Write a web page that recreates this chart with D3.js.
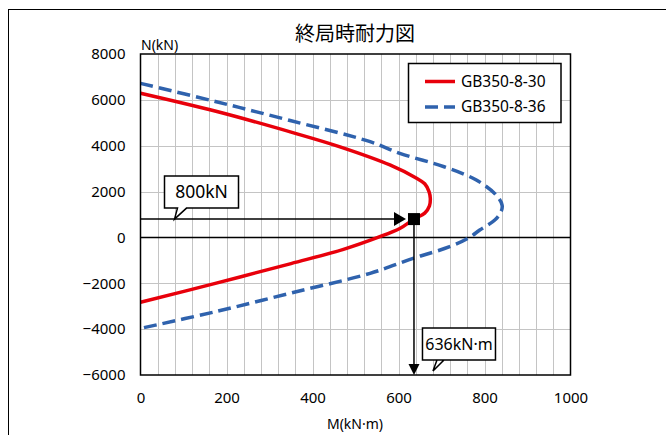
<!DOCTYPE html>
<html><head><meta charset="utf-8">
<script src="https://cdn.jsdelivr.net/npm/d3@7"></script>
<style>body{margin:0;background:#fff} text{font-family:"Noto Sans","Noto Sans CJK JP",sans-serif;fill:#000}</style>
</head><body><svg id="c" width="666" height="435"></svg>
<script>
const title = "終局時耐力図";
const xTitle = "M(kN·m)";
const yTitle = "N(kN)";
const seriesNames = ["GB350-8-30", "GB350-8-36"];
const redM = [0, 180, 360, 464, 580, 642, 661, 671, 674, 672, 661, 636, 603, 552, 472, 350, 174, 0];
const redN = [6290, 5480, 4540, 3950, 3160, 2580, 2340, 2000, 1700, 1380, 1060, 800, 390, 0, -520, -1140, -2003, -2830];
const blueM = [0, 174, 348, 534, 603, 706, 781, 827, 841, 838, 824, 789, 765, 719, 634, 534, 355, 174, 0];
const blueN = [6720, 5930, 5100, 4175, 3667, 3083, 2503, 1850, 1400, 1100, 759, 323, 0, -405, -911, -1566, -2400, -3240, -3966];
const xTicks = [0, 200, 400, 600, 800, 1000];
const yTicks = [8000, 6000, 4000, 2000, 0, -2000, -4000, -6000];
const pointM = 636, pointN = 800;
const labelN = "800kN", labelM = "636kN·m";

const svg = d3.select("#c");
const x = d3.scaleLinear().domain([0, 1000]).range([140.5, 570.5]);
const y = d3.scaleLinear().domain([-6000, 8000]).range([375, 54]);

// outer frame
svg.append("rect").attr("x", 8.5).attr("y", 9.5).attr("width", 700).attr("height", 500)
  .attr("fill", "none").attr("stroke", "#000").attr("stroke-width", 1);

// grid
const g = svg.append("g");
g.selectAll("line.v").data(d3.range(40, 1000, 40)).join("line")
  .attr("x1", d => Math.round(x(d)) + 0.5).attr("x2", d => Math.round(x(d)) + 0.5)
  .attr("y1", y(8000)).attr("y2", y(-6000)).attr("stroke", "#c4c4c4").attr("stroke-width", 1);
g.selectAll("line.h").data(yTicks.filter(d => d !== 0 && d !== 8000 && d !== -6000)).join("line")
  .attr("y1", d => Math.round(y(d)) + 0.5).attr("y2", d => Math.round(y(d)) + 0.5)
  .attr("x1", x(0)).attr("x2", x(1000)).attr("stroke", "#c4c4c4").attr("stroke-width", 1);
g.append("line").attr("x1", x(0)).attr("x2", x(1000)).attr("y1", y(0)).attr("y2", y(0))
  .attr("stroke", "#000").attr("stroke-width", 1.5);

// axes
const ya = svg.append("g").attr("transform", `translate(${x(0)},0)`)
  .call(d3.axisLeft(y).tickValues(yTicks).tickSize(0).tickPadding(15).tickFormat(d3.format("d")));
ya.select(".domain").remove();
ya.selectAll("text").style("font-size", "15px").style("fill", "#000").style("font-family", "'Noto Sans'");
const xa = svg.append("g").attr("transform", `translate(0,${y(-6000)})`)
  .call(d3.axisBottom(x).tickValues(xTicks).tickSize(0).tickPadding(17).tickFormat(d3.format("d")));
xa.select(".domain").remove();
xa.selectAll("text").style("font-size", "15px").style("fill", "#000").style("font-family", "'Noto Sans'");

// curves
const line = d3.line().x(d => x(d[0])).y(d => y(d[1])).curve(d3.curveCatmullRom.alpha(0.5));
const red = redM.map((m, i) => [m, redN[i]]);
const blue = blueM.map((m, i) => [m, blueN[i]]);
svg.append("path").attr("d", line(blue)).attr("fill", "none").attr("stroke", "#2f62ad")
  .attr("stroke-width", 3.5).attr("stroke-dasharray", "13,6");
svg.append("path").attr("d", line(red)).attr("fill", "none").attr("stroke", "#e8000b")
  .attr("stroke-width", 3.5);

// plot border
svg.append("rect").attr("x", x(0)).attr("y", y(8000)).attr("width", x(1000) - x(0)).attr("height", y(-6000) - y(8000))
  .attr("fill", "none").attr("stroke", "#000").attr("stroke-width", 1.5);

// arrows & marker
const px = x(pointM), py = y(pointN);
svg.append("line").attr("x1", x(0)).attr("x2", px - 18).attr("y1", py).attr("y2", py).attr("stroke", "#000").attr("stroke-width", 1.5);
svg.append("path").attr("d", `M${px - 8},${py} L${px - 20},${py - 7} L${px - 20},${py + 7} Z`).attr("fill", "#000");
svg.append("line").attr("x1", px).attr("x2", px).attr("y1", py).attr("y2", y(-6000) - 9).attr("stroke", "#000").attr("stroke-width", 1.5);
svg.append("path").attr("d", `M${px},${y(-6000)} L${px - 5.5},${y(-6000) - 11} L${px + 5.5},${y(-6000) - 11} Z`).attr("fill", "#000");
svg.append("rect").attr("x", px - 6).attr("y", py - 6).attr("width", 12).attr("height", 12).attr("fill", "#000");

// callouts
function callout(tipX, tipY, bx, by, w, h, t0, t1, txt, fs) {
  const p = `M${bx},${by} H${bx + w} V${by + h} H${bx + t1} L${tipX},${tipY} L${bx + t0},${by + h} H${bx} Z`;
  svg.append("path").attr("d", p).attr("fill", "#fff").attr("stroke", "#000").attr("stroke-width", 1.5);
  svg.append("text").attr("x", bx + w / 2).attr("y", by + h / 2).attr("dy", "0.35em")
    .attr("text-anchor", "middle").style("font-size", fs + "px").text(txt);
}
const t1x = x(0) + 34, t1y = py;
callout(t1x, t1y, t1x - 10, t1y - 43, 74, 32, 13, 22, labelN, 17.5);
const t2x = px + 19, t2y = y(-6000) - 4;
callout(t2x, t2y, t2x - 10.5, t2y - 43, 73, 32, 21.5, 14.5, labelM, 16);

// legend
svg.append("rect").attr("x", 408.5).attr("y", 63.5).attr("width", 152.5).attr("height", 59)
  .attr("fill", "#fff").attr("stroke", "#000").attr("stroke-width", 1.5);
const lg = [{c: "#e8000b", d: null, y: 81.5}, {c: "#2f62ad", d: "13,6", y: 107}];
lg.forEach((l, i) => {
  svg.append("line").attr("x1", 425).attr("x2", 455).attr("y1", l.y).attr("y2", l.y)
    .attr("stroke", l.c).attr("stroke-width", 3.5).attr("stroke-dasharray", l.d);
  svg.append("text").attr("x", 461).attr("y", l.y).attr("dy", "0.35em").style("font-size", "15.5px").text(seriesNames[i]);
});

// titles
svg.append("text").attr("x", 355).attr("y", 41).attr("text-anchor", "middle").style("font-size", "20px")
  .style("font-family", "'Noto Sans CJK JP'").text(title);
svg.append("text").attr("x", 141).attr("y", 50).style("font-size", "14px").text(yTitle);
svg.append("text").attr("x", 355).attr("y", 429).attr("text-anchor", "middle").style("font-size", "14px").text(xTitle);
</script></body></html>
